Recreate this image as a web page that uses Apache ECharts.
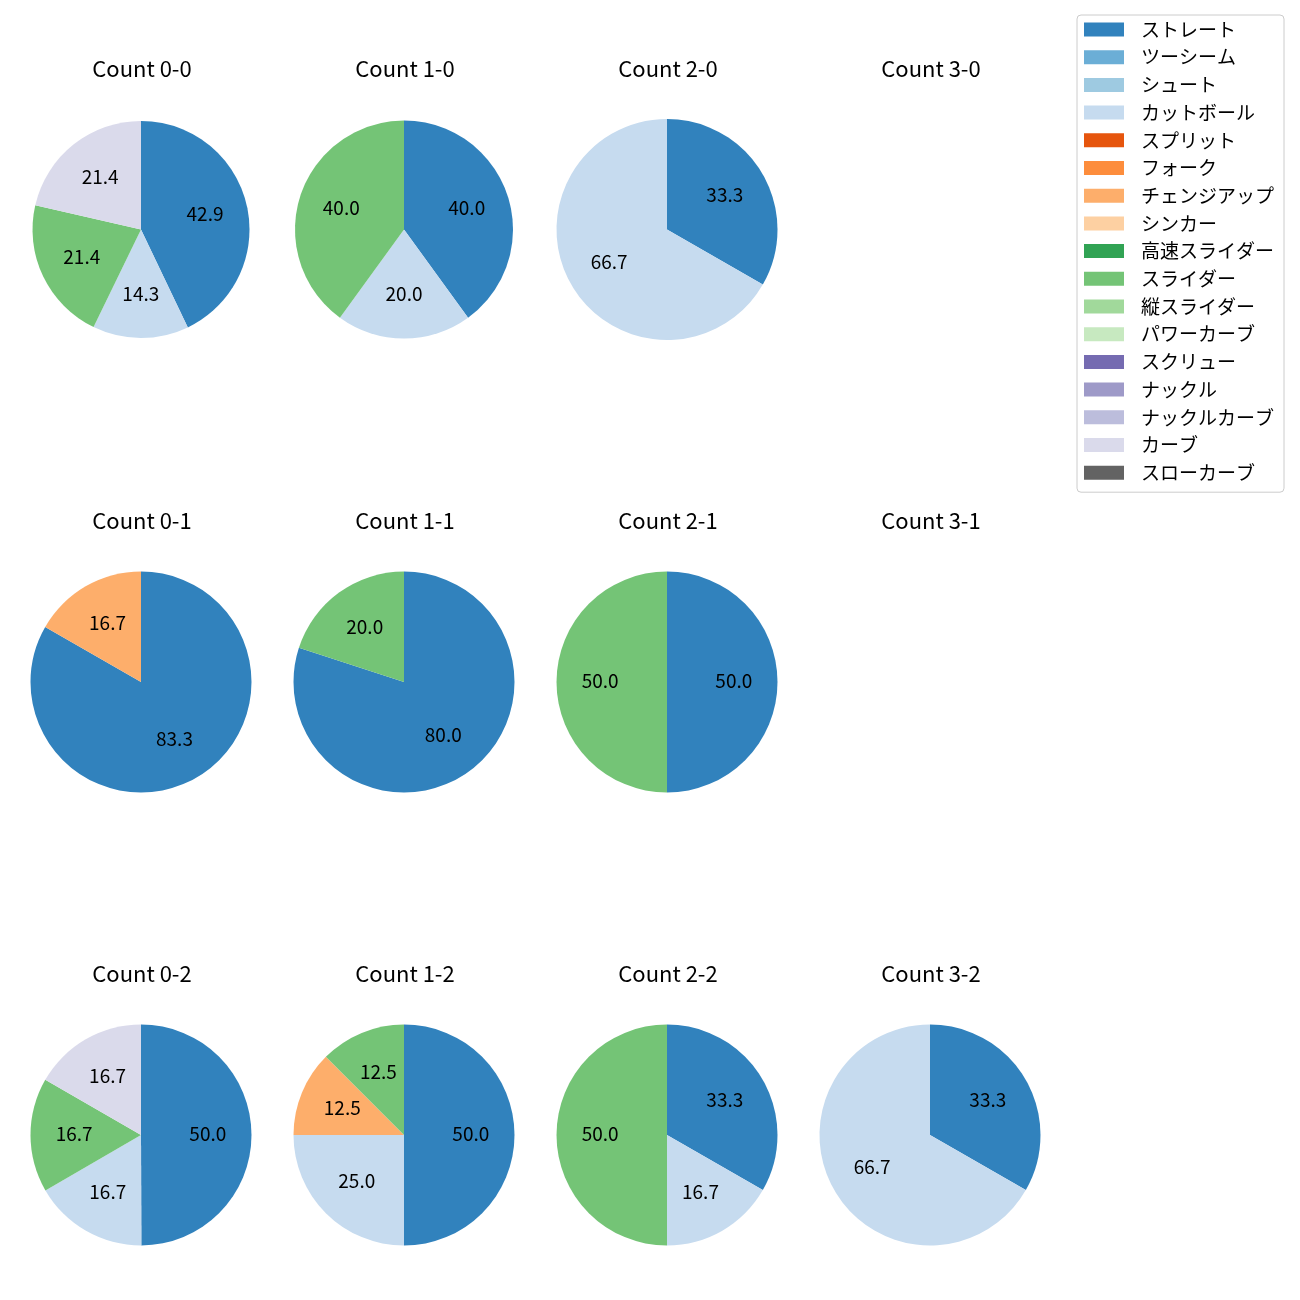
<!DOCTYPE html>
<html>
<head>
<meta charset="utf-8">
<script src="https://cdn.jsdelivr.net/npm/echarts@6/dist/echarts.min.js"></script>
<style>html,body{margin:0;padding:0;background:#fff;}#main{width:1300px;height:1300px;}</style>
</head>
<body>
<div id="main"></div>
<script>
// ---- data ----
const pitchTypes = ['ストレート','ツーシーム','シュート','カットボール','スプリット','フォーク','チェンジアップ','シンカー','高速スライダー','スライダー','縦スライダー','パワーカーブ','スクリュー','ナックル','ナックルカーブ','カーブ','スローカーブ'];
const palette = ['#3182bd','#6baed6','#9ecae1','#c6dbef','#e6550d','#fd8d3c','#fdae6b','#fdd0a2','#31a354','#74c476','#a1d99b','#c7e9c0','#756bb1','#9e9ac8','#bcbddc','#dadaeb','#636363'];
const countLabels = ['0-0','1-0','2-0','3-0','0-1','1-1','2-1','3-1','0-2','1-2','2-2','3-2'];
// percentages per pitch type, in pitchTypes order
const count00 = [42.9,0,0,14.3,0,0,0,0,0,21.4,0,0,0,0,0,21.4,0];
const count10 = [40.0,0,0,20.0,0,0,0,0,0,40.0,0,0,0,0,0,0,0];
const count20 = [33.3,0,0,66.7,0,0,0,0,0,0,0,0,0,0,0,0,0];
const count30 = [];
const count01 = [83.3,0,0,0,0,0,16.7,0,0,0,0,0,0,0,0,0,0];
const count11 = [80.0,0,0,0,0,0,0,0,0,20.0,0,0,0,0,0,0,0];
const count21 = [50.0,0,0,0,0,0,0,0,0,50.0,0,0,0,0,0,0,0];
const count31 = [];
const count02 = [50.0,0,0,16.7,0,0,0,0,0,16.7,0,0,0,0,0,16.7,0];
const count12 = [50.0,0,0,25.0,0,0,12.5,0,0,12.5,0,0,0,0,0,0,0];
const count22 = [33.3,0,0,16.7,0,0,0,0,0,50.0,0,0,0,0,0,0,0];
const count32 = [33.3,0,0,66.7,0,0,0,0,0,0,0,0,0,0,0,0,0];
const countValues = [count00,count10,count20,count30,count01,count11,count21,count31,count02,count12,count22,count32];

// ---- layout ----
const colX = [141, 404, 667, 930];
const rowY = [229.5, 682, 1135];
const titleY = [69, 521, 974];
const radii = [108.5,109,110.5,110.5, 110.5,110.5,110.5,110.5, 110.5,110.5,110.5,110.5];
const FONT = '"Noto Sans CJK JP", "Noto Sans", sans-serif';

const chart = echarts.init(document.getElementById('main'), null, {renderer: 'canvas'});

const series = [];
// legend carrier (invisible)
series.push({
  type: 'pie', radius: [0, 0], center: [-100, -100], silent: true,
  label: {show: false}, labelLine: {show: false},
  data: pitchTypes.map((n, i) => ({name: n, value: 1, itemStyle: {color: palette[i]}}))
});
const titles = [];
countLabels.forEach((lab, k) => {
  const col = k % 4, row = Math.floor(k / 4);
  titles.push({
    text: 'Count ' + lab, left: colX[col] + 1, top: titleY[row] - 13, textAlign: 'center', padding: 0,
    textStyle: {fontFamily: FONT, fontSize: 22, fontWeight: 'normal', color: '#000', lineHeight: 26}
  });
  const vals = countValues[k];
  const data = [];
  vals.forEach((v, i) => { if (v > 0) data.push({name: pitchTypes[i], value: v, itemStyle: {color: palette[i]}}); });
  if (!data.length) return;
  const r = radii[k];
  series.push({
    type: 'pie', center: [colX[col], rowY[row]], radius: [0, r], startAngle: 90, clockwise: true,
    silent: true, avoidLabelOverlap: false,
    label: {show: false}, labelLine: {show: false},
    itemStyle: {borderWidth: 0},
    emphasis: {disabled: true},
    data: data
  });
  // label carrier: transparent pie so that inside labels sit at ~0.6r
  series.push({
    type: 'pie', center: [colX[col], rowY[row]], radius: [0, r * 1.155], startAngle: 90, clockwise: true,
    silent: true, avoidLabelOverlap: false, z: 5,
    label: {show: true, position: 'inside', formatter: p => p.value.toFixed(1),
      fontFamily: FONT, fontSize: 19, color: '#000', offset: [0, -1.5]},
    labelLine: {show: false},
    itemStyle: {color: 'rgba(0,0,0,0)', borderWidth: 0},
    emphasis: {disabled: true},
    data: data.map(d => ({name: d.name, value: d.value, itemStyle: {color: 'rgba(0,0,0,0)'}}))
  });
});

chart.setOption({
  animation: false,
  backgroundColor: '#fff',
  title: titles,
  legend: {
    orient: 'vertical', left: 1077, top: 15,
    data: pitchTypes,
    itemWidth: 40, itemHeight: 14, itemGap: 8.7,
    padding: [5, 10, 10, 7],
    borderColor: '#cccccc', borderWidth: 1, borderRadius: 4,
    icon: 'rect',
    selectedMode: false,
    textStyle: {fontFamily: FONT, fontSize: 19, color: '#000', padding: [0, 0, 0, 12]}
  },
  series: series
});
</script>
</body>
</html>
